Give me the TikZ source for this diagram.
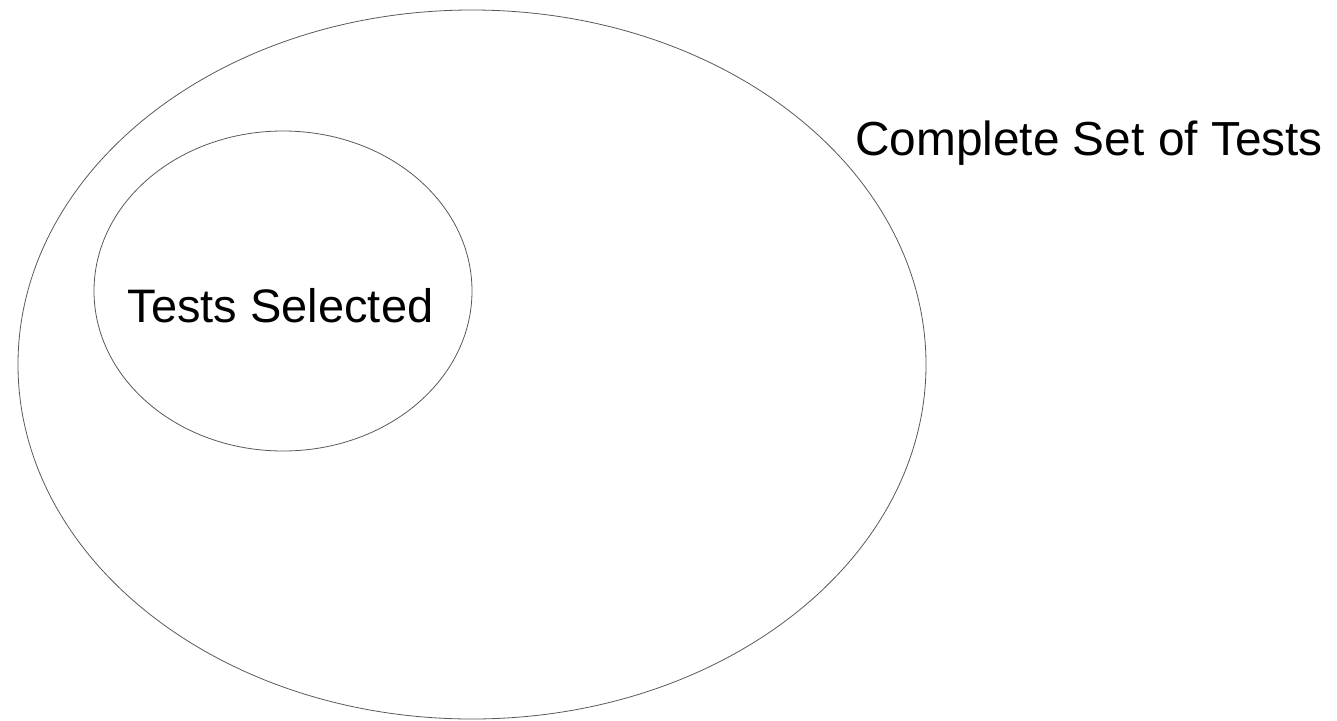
\documentclass[tikz,border=0pt]{standalone}
\usepackage{fontspec}
\setmainfont{Liberation Sans}
\begin{document}
\begin{tikzpicture}[x=1pt,y=-1pt,
  setline/.style={draw=black!65,line width=0.8pt},
  setlabel/.style={inner sep=0pt,font=\fontsize{47}{56}\selectfont}]
\useasboundingbox (0,0) rectangle (1337,720);
% outer set: every test
\draw[setline] (472,364.5) ellipse [x radius=454, y radius=354.5];
\node[coordinate] (all) at (472,364.5) {};
% inner set: the tests that were picked
\draw[setline] (283,291) ellipse [x radius=189, y radius=160];
\node[coordinate] (sel) at (283,291) {};
\node[setlabel,anchor=base] (selText) at (280.5,322) {Tests Selected};
\node[setlabel,anchor=base west,font=\fontsize{47.8}{57}\selectfont] (allText) at (855,155.5) {Complete Set of Tests};
\end{tikzpicture}
\end{document}
